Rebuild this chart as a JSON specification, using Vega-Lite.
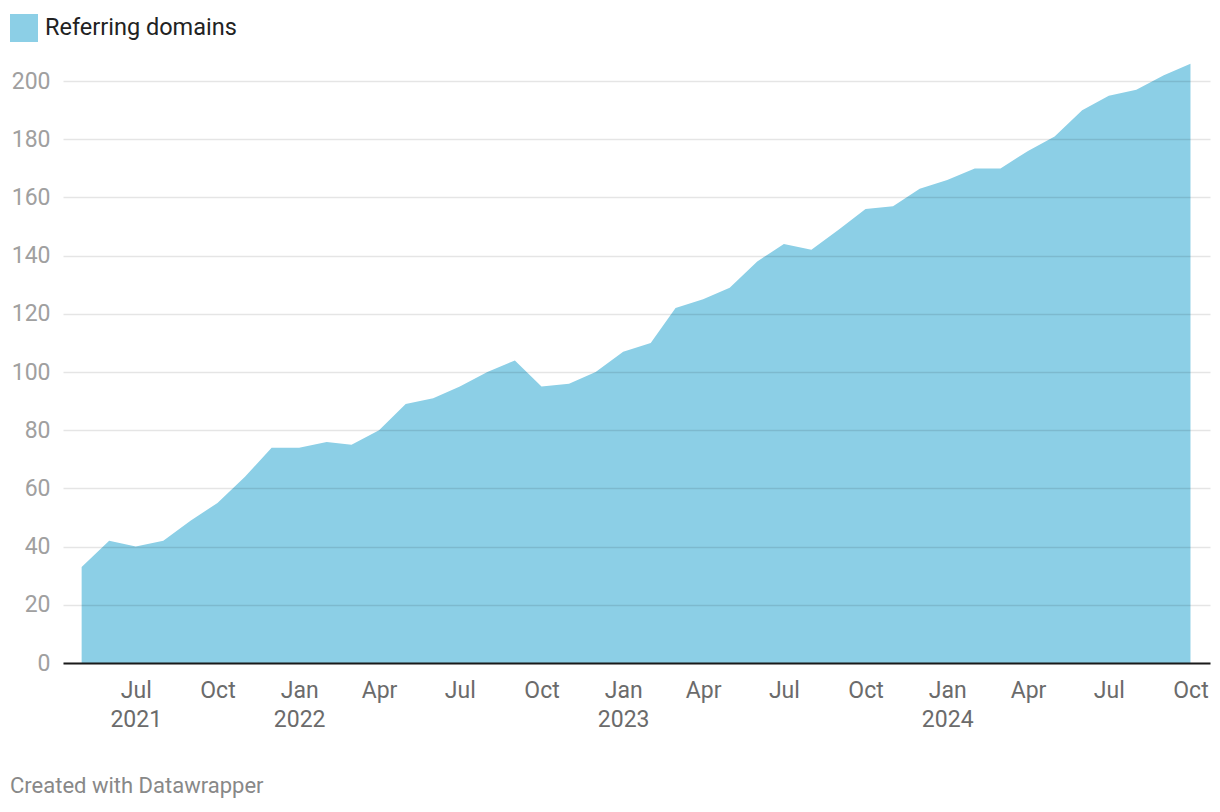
{
  "$schema": "https://vega.github.io/schema/vega-lite/v6.json",
  "width": 1147,
  "height": 611,
  "autosize": "none",
  "padding": {"left": 63, "top": 52, "right": 10, "bottom": 149},
  "background": "white",
  "config": {"view": {"stroke": null}, "font": "Roboto"},
  "title": {"text": "Created with Datawrapper", "orient": "bottom", "anchor": "start", "frame": "bounds", "fontSize": 22, "fontWeight": "normal", "color": "#888888", "offset": 45},
  "data": {"values": [
    {"date": "2021-05-01T00:00:00", "value": 33},
    {"date": "2021-06-01T00:00:00", "value": 42},
    {"date": "2021-07-01T00:00:00", "value": 40},
    {"date": "2021-08-01T00:00:00", "value": 42},
    {"date": "2021-09-01T00:00:00", "value": 49},
    {"date": "2021-10-01T00:00:00", "value": 55},
    {"date": "2021-11-01T00:00:00", "value": 64},
    {"date": "2021-12-01T00:00:00", "value": 74},
    {"date": "2022-01-01T00:00:00", "value": 74},
    {"date": "2022-02-01T00:00:00", "value": 76},
    {"date": "2022-03-01T00:00:00", "value": 75},
    {"date": "2022-04-01T00:00:00", "value": 80},
    {"date": "2022-05-01T00:00:00", "value": 89},
    {"date": "2022-06-01T00:00:00", "value": 91},
    {"date": "2022-07-01T00:00:00", "value": 95},
    {"date": "2022-08-01T00:00:00", "value": 100},
    {"date": "2022-09-01T00:00:00", "value": 104},
    {"date": "2022-10-01T00:00:00", "value": 95},
    {"date": "2022-11-01T00:00:00", "value": 96},
    {"date": "2022-12-01T00:00:00", "value": 100},
    {"date": "2023-01-01T00:00:00", "value": 107},
    {"date": "2023-02-01T00:00:00", "value": 110},
    {"date": "2023-03-01T00:00:00", "value": 122},
    {"date": "2023-04-01T00:00:00", "value": 125},
    {"date": "2023-05-01T00:00:00", "value": 129},
    {"date": "2023-06-01T00:00:00", "value": 138},
    {"date": "2023-07-01T00:00:00", "value": 144},
    {"date": "2023-08-01T00:00:00", "value": 142},
    {"date": "2023-09-01T00:00:00", "value": 149},
    {"date": "2023-10-01T00:00:00", "value": 156},
    {"date": "2023-11-01T00:00:00", "value": 157},
    {"date": "2023-12-01T00:00:00", "value": 163},
    {"date": "2024-01-01T00:00:00", "value": 166},
    {"date": "2024-02-01T00:00:00", "value": 170},
    {"date": "2024-03-01T00:00:00", "value": 170},
    {"date": "2024-04-01T00:00:00", "value": 176},
    {"date": "2024-05-01T00:00:00", "value": 181},
    {"date": "2024-06-01T00:00:00", "value": 190},
    {"date": "2024-07-01T00:00:00", "value": 195},
    {"date": "2024-08-01T00:00:00", "value": 197},
    {"date": "2024-09-01T00:00:00", "value": 202},
    {"date": "2024-10-01T00:00:00", "value": 206}
  ]},
  "mark": {"type": "area", "interpolate": "linear"},
  "encoding": {
    "x": {
      "field": "date",
      "type": "temporal",
      "scale": {"domain": [{"year": 2021, "month": 4, "date": 10}, {"year": 2024, "month": 10, "date": 23}]},
      "axis": {
        "title": null,
        "values": [
          {"year": 2021, "month": 7, "date": 1},
          {"year": 2021, "month": 10, "date": 1},
          {"year": 2022, "month": 1, "date": 1},
          {"year": 2022, "month": 4, "date": 1},
          {"year": 2022, "month": 7, "date": 1},
          {"year": 2022, "month": 10, "date": 1},
          {"year": 2023, "month": 1, "date": 1},
          {"year": 2023, "month": 4, "date": 1},
          {"year": 2023, "month": 7, "date": 1},
          {"year": 2023, "month": 10, "date": 1},
          {"year": 2024, "month": 1, "date": 1},
          {"year": 2024, "month": 4, "date": 1},
          {"year": 2024, "month": 7, "date": 1},
          {"year": 2024, "month": 10, "date": 1}
        ],
        "labelExpr": "(month(datum.value) == 0 || (year(datum.value) == 2021 && month(datum.value) == 6)) ? [timeFormat(datum.value, '%b'), timeFormat(datum.value, '%Y')] : timeFormat(datum.value, '%b')",
        "ticks": false,
        "grid": false,
        "domainColor": "#1a1a1a",
        "domainWidth": 2,
        "labelFontSize": 23,
        "labelColor": "#6b6b6b",
        "labelPadding": 16,
        "labelLineHeight": 29,
        "labelFlush": false,
        "labelOverlap": false,
        "labelBound": false,
        "zindex": 1
      }
    },
    "y": {
      "field": "value",
      "type": "quantitative",
      "scale": {"domain": [0, 210], "nice": false, "zero": true},
      "axis": {
        "title": null,
        "values": [0, 20, 40, 60, 80, 100, 120, 140, 160, 180, 200],
        "domain": false,
        "ticks": false,
        "labelFontSize": 23,
        "labelColor": "#a0a0a0",
        "labelPadding": 13,
        "gridColor": "#000000",
        "gridOpacity": 0.1,
        "gridWidth": 1.5,
        "zindex": 1
      }
    },
    "color": {
      "datum": "Referring domains",
      "type": "nominal",
      "scale": {"range": ["#8ccfe6"]},
      "legend": {
        "orient": "none",
        "legendX": -53,
        "legendY": -38,
        "title": null,
        "symbolType": "square",
        "symbolSize": 784,
        "symbolStrokeWidth": 0,
        "symbolOpacity": 1,
        "labelFontSize": 23.5,
        "labelColor": "#222222",
        "labelOffset": 7,
        "labelLimit": 0,
        "padding": 0
      }
    }
  }
}
